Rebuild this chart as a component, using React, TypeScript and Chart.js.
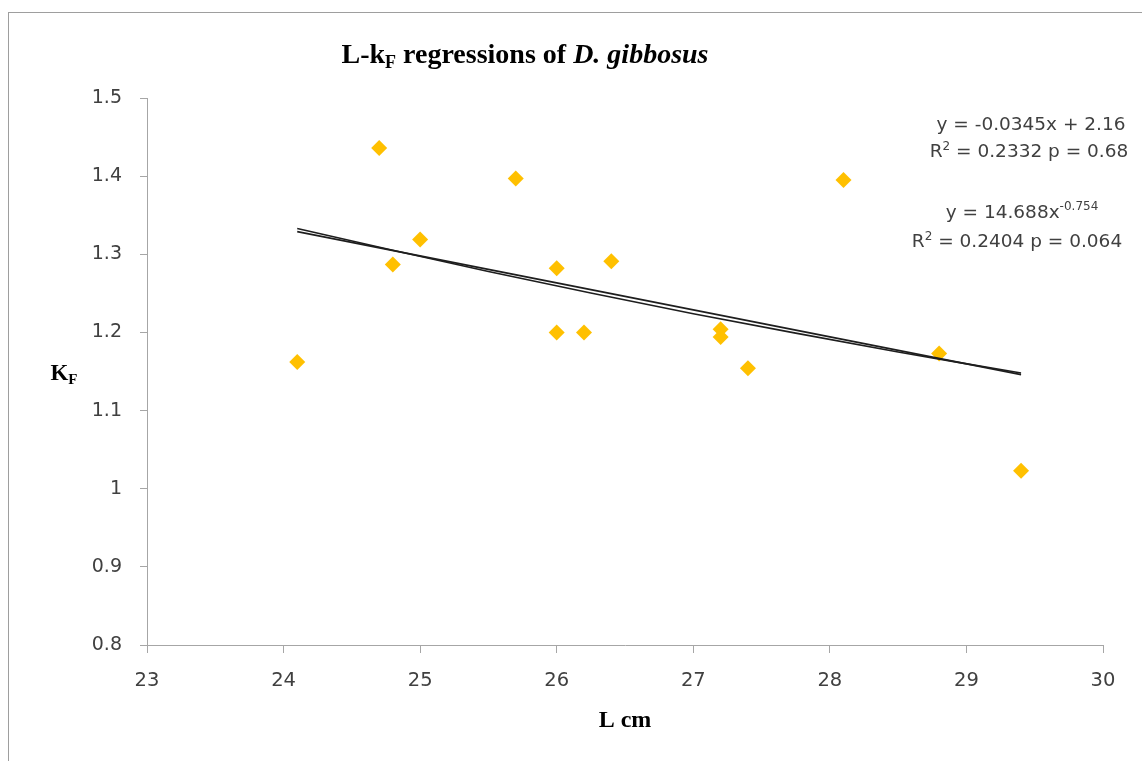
import React, { useEffect, useRef } from "react";
import { Chart, registerables } from "chart.js";

Chart.register(...registerables);

// Observed data (L cm vs K_F)
const lengthCm = [24.1, 24.7, 24.8, 25.0, 25.7, 26.0, 26.0, 26.2, 26.4, 27.2, 27.2, 27.4, 28.1, 28.8, 29.4];
const kF = [1.162, 1.436, 1.287, 1.319, 1.397, 1.282, 1.2, 1.2, 1.291, 1.204, 1.194, 1.154, 1.395, 1.173, 1.023];

// Trendlines
const linearTrendX = [24.1, 29.4];
const linearTrendY = [1.329, 1.146];
const powerTrendX = [24.1, 25.5, 27.0, 28.5, 29.4];
const powerTrendY = [1.333, 1.278, 1.224, 1.175, 1.148];

// Axis ranges / ticks
const xTicks = [23, 24, 25, 26, 27, 28, 29, 30];
const yTicks = [0.8, 0.9, 1, 1.1, 1.2, 1.3, 1.4, 1.5];

// Annotation texts
const titleMain = "L-k";
const titleSub = "F";
const titleMid = " regressions of ";
const titleItalic = "D. gibbosus";
const yTitleMain = "K";
const yTitleSub = "F";
const xTitle = "L cm";
const eqLinear = "y = -0.0345x + 2.16";
const eqLinearR = " = 0.2332 p = 0.68";
const eqPowerBase = "y = 14.688x";
const eqPowerExp = "-0.754";
const eqPowerR = " = 0.2404 p = 0.064";

type Run = { text: string; font: string; dy?: number };

function drawRuns(ctx: CanvasRenderingContext2D, runs: Run[], x: number, y: number, align: "left" | "center" | "right", color: string) {
  ctx.save();
  ctx.fillStyle = color;
  ctx.textBaseline = "alphabetic";
  ctx.textAlign = "left";
  const widths = runs.map((r) => {
    ctx.font = r.font;
    return ctx.measureText(r.text).width;
  });
  const total = widths.reduce((a, b) => a + b, 0);
  let cx = align === "left" ? x : align === "center" ? x - total / 2 : x - total;
  runs.forEach((r, i) => {
    ctx.font = r.font;
    ctx.fillText(r.text, cx, y + (r.dy || 0));
    cx += widths[i];
  });
  ctx.restore();
}

const SERIF = '"Liberation Serif", "Times New Roman", serif';
const SANS = '"DejaVu Sans", Verdana, sans-serif';

const annotationPlugin = {
  id: "annotations",
  afterDraw(chart: any) {
    const ctx = chart.ctx as CanvasRenderingContext2D;
    // Title
    drawRuns(
      ctx,
      [
        { text: titleMain, font: `bold 28px ${SERIF}` },
        { text: titleSub, font: `bold 18px ${SERIF}`, dy: 5 },
        { text: titleMid, font: `bold 28px ${SERIF}` },
        { text: titleItalic, font: `italic bold 28px ${SERIF}` },
      ],
      516,
      50,
      "center",
      "#000"
    );
    // Y title
    drawRuns(
      ctx,
      [
        { text: yTitleMain, font: `bold 23px ${SERIF}` },
        { text: yTitleSub, font: `bold 15px ${SERIF}`, dy: 4 },
      ],
      55,
      367,
      "center",
      "#000"
    );
    // X title
    drawRuns(ctx, [{ text: xTitle, font: `bold 24px ${SERIF}` }], 616, 714, "center", "#000");
    // Equations
    const eqColor = "#404040";
    const big = `18.5px ${SANS}`;
    const small = `12px ${SANS}`;
    drawRuns(ctx, [{ text: eqLinear, font: big }], 1022, 117, "center", eqColor);
    drawRuns(
      ctx,
      [
        { text: "R", font: big },
        { text: "2", font: small, dy: -7 },
        { text: eqLinearR, font: big },
      ],
      1020,
      144,
      "center",
      eqColor
    );
    drawRuns(
      ctx,
      [
        { text: eqPowerBase, font: big },
        { text: eqPowerExp, font: small, dy: -8 },
      ],
      1013,
      205,
      "center",
      eqColor
    );
    drawRuns(
      ctx,
      [
        { text: "R", font: big },
        { text: "2", font: small, dy: -7 },
        { text: eqPowerR, font: big },
      ],
      1008,
      234,
      "center",
      eqColor
    );
  },
};

export default function App() {
  const canvasRef = useRef<HTMLCanvasElement | null>(null);

  useEffect(() => {
    if (!canvasRef.current) return;
    const chart = new Chart(canvasRef.current, {
      type: "scatter",
      data: {
        datasets: [
          {
            label: "KF",
            data: lengthCm.map((x, i) => ({ x, y: kF[i] })),
            backgroundColor: "#FFC000",
            borderColor: "#FFC000",
            pointStyle: "rectRot",
            pointRadius: 8,
            borderWidth: 0,
            order: 2,
          },
          {
            label: "Linear",
            data: linearTrendX.map((x, i) => ({ x, y: linearTrendY[i] })),
            showLine: true,
            borderColor: "#1e1e1e",
            borderWidth: 1.6,
            pointRadius: 0,
            order: 1,
          },
          {
            label: "Power",
            data: powerTrendX.map((x, i) => ({ x, y: powerTrendY[i] })),
            showLine: true,
            borderColor: "#1e1e1e",
            borderWidth: 1.6,
            pointRadius: 0,
            tension: 0.3,
            order: 1,
          },
        ],
      },
      options: {
        animation: false,
        responsive: false,
        maintainAspectRatio: false,
        layout: { padding: { left: 0, top: 85, right: 39, bottom: 0 } },
        plugins: {
          legend: { display: false },
          title: { display: false },
          tooltip: { enabled: false },
        },
        scales: {
          x: {
            type: "linear",
            min: xTicks[0],
            max: xTicks[xTicks.length - 1],
            afterBuildTicks: (s: any) => {
              s.ticks = xTicks.map((v) => ({ value: v }));
            },
            afterFit: (s: any) => {
              s.height = 116;
            },
            grid: { drawOnChartArea: false, drawTicks: true, tickLength: 8, color: "#a6a6a6" },
            border: { display: true, color: "#a6a6a6", width: 1 },
            ticks: {
              padding: 16,
              color: "#404040",
              font: { family: SANS, size: 19.5 },
              maxRotation: 0,
            },
          },
          y: {
            type: "linear",
            min: yTicks[0],
            max: yTicks[yTicks.length - 1],
            afterBuildTicks: (s: any) => {
              s.ticks = yTicks.map((v) => ({ value: v }));
            },
            afterFit: (s: any) => {
              s.width = 138;
            },
            grid: { drawOnChartArea: false, drawTicks: true, tickLength: 7, color: "#a6a6a6" },
            border: { display: true, color: "#a6a6a6", width: 1 },
            ticks: {
              padding: 18,
              color: "#404040",
              font: { family: SANS, size: 19 },
              callback: (v: any) => String(Math.round(Number(v) * 10) / 10),
            },
          },
        },
      },
      plugins: [annotationPlugin],
    });
    return () => chart.destroy();
  }, []);

  return (
    <div
      style={{
        position: "absolute",
        left: 8,
        top: 12,
        width: 1134,
        height: 749,
        boxSizing: "border-box",
        borderTop: "1px solid #9e9e9e",
        borderLeft: "1px solid #9e9e9e",
        background: "#fff",
      }}
    >
      <canvas ref={canvasRef} width={1133} height={748} style={{ display: "block", width: 1133, height: 748 }} />
    </div>
  );
}
